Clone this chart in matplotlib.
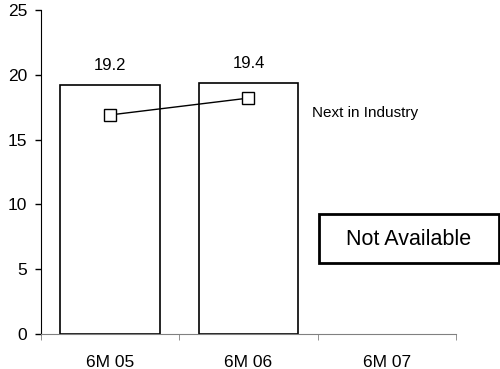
import numpy as np
import matplotlib.pyplot as plt
from matplotlib.patches import Rectangle

categories = ['6M 05', '6M 06', '6M 07']
bar_values = [19.2, 19.4]
industry_values = [16.9, 18.2]
y_ticks = [0, 5, 10, 15, 20, 25]

plt.rcParams['font.family'] = ['Liberation Sans', 'DejaVu Sans']

fig = plt.figure(figsize=(5, 3.69), dpi=100)
ax = fig.add_axes([0.082, 0.095, 0.83, 0.878])

x = np.arange(len(bar_values))
ax.bar(x, bar_values, width=0.72, color='white', edgecolor='black', linewidth=1.2, zorder=2)
for xi, v in zip(x, bar_values):
    ax.text(xi, v + 0.9, f'{v:.1f}', ha='center', va='bottom', fontsize=12)

ax.plot(x, industry_values, color='black', linewidth=1, marker='s', markersize=9,
        markerfacecolor='white', markeredgecolor='black', markeredgewidth=1, zorder=3)
ax.text(1.46, 17.05, 'Next in Industry', ha='left', va='center', fontsize=11)

ax.set_xlim(-0.5, len(categories) - 0.5)
ax.set_ylim(0, 25)
ax.set_yticks(y_ticks)
ax.tick_params(axis='y', direction='out', length=4, labelsize=12.5, width=1, pad=6)
ax.set_xticks(np.arange(len(categories)))
ax.set_xticklabels(categories)
ax.tick_params(axis='x', which='major', length=0, labelsize=12.5, pad=15)
ax.set_xticks(np.arange(len(categories) + 1) - 0.5, minor=True)
ax.tick_params(axis='x', which='minor', direction='out', length=4, color='#808080')

ax.spines['top'].set_visible(False)
ax.spines['right'].set_visible(False)
ax.spines['bottom'].set_color('#808080')

# "Not Available" box for the missing period
fig.patches.append(Rectangle((0.638, 0.287), 0.36, 0.133, transform=fig.transFigure,
                             facecolor='white', edgecolor='black', linewidth=2))
fig.text(0.818, 0.35, 'Not Available', ha='center', va='center', fontsize=15.5)

fig.savefig('out.png', dpi=100)
